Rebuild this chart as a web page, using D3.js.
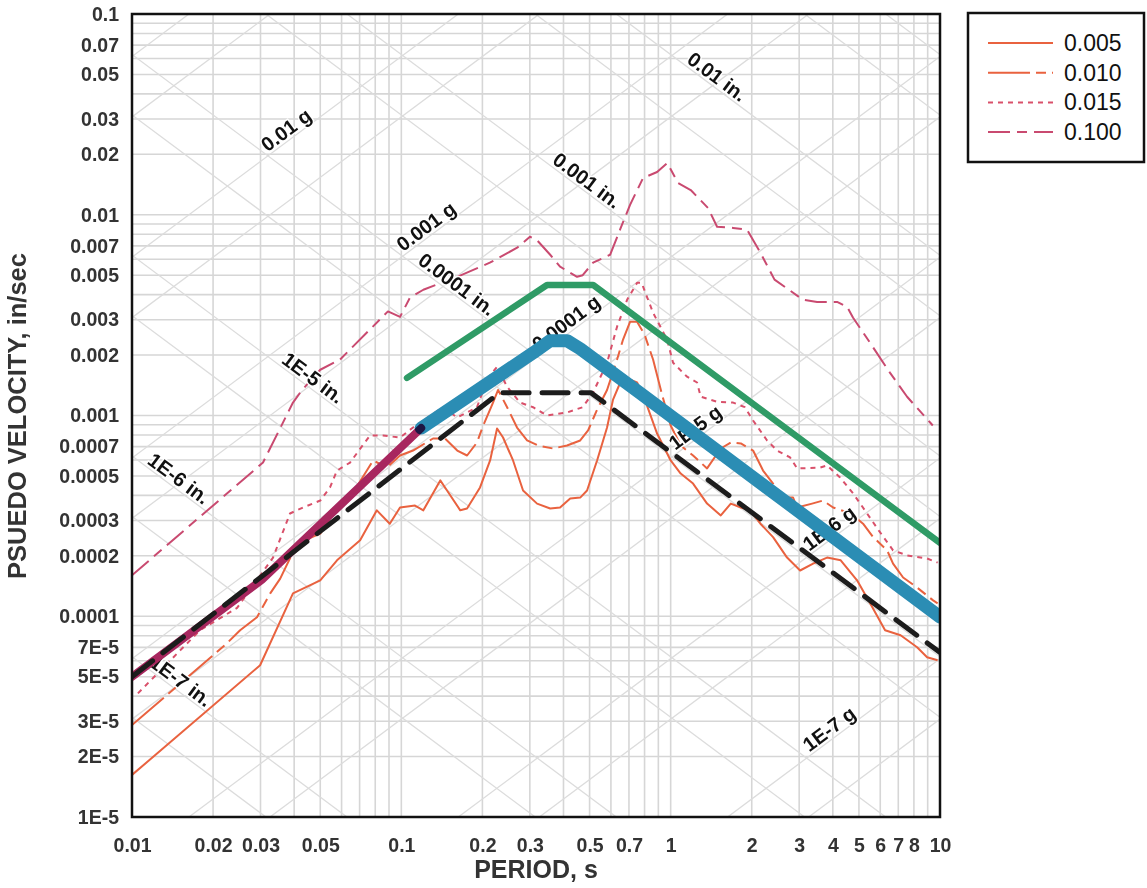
<!DOCTYPE html>
<html>
<head>
<meta charset="utf-8">
<script src="https://cdn.jsdelivr.net/npm/d3@7"></script>
<style>
  body { margin: 0; background: #fff; }
  svg { display: block; font-family: Arial, "Liberation Sans", sans-serif; }
</style>
</head>
<body>
<svg id="chart" width="1147" height="888"></svg>
<script>
// ---------- axis ticks ----------
const periodTicks = [0.01, 0.02, 0.03, 0.05, 0.1, 0.2, 0.3, 0.5, 0.7, 1, 2, 3, 4, 5, 6, 7, 8, 10];
const periodTickLabels = ["0.01", "0.02", "0.03", "0.05", "0.1", "0.2", "0.3", "0.5", "0.7", "1", "2", "3", "4", "5", "6", "7", "8", "10"];
const velocityTicks = [0.1, 0.07, 0.05, 0.03, 0.02, 0.01, 0.007, 0.005, 0.003, 0.002, 0.001, 0.0007, 0.0005, 0.0003, 0.0002, 0.0001, 7e-5, 5e-5, 3e-5, 2e-5, 1e-5];
const velocityTickLabels = ["0.1", "0.07", "0.05", "0.03", "0.02", "0.01", "0.007", "0.005", "0.003", "0.002", "0.001", "0.0007", "0.0005", "0.0003", "0.0002", "0.0001", "7E-5", "5E-5", "3E-5", "2E-5", "1E-5"];

// ---------- tripartite guide labels ----------
const accelLabelText = ["0.01 g", "0.001 g", "0.0001 g", "1E-5 g", "1E-6 g", "1E-7 g"];
const accelLabelG = [1e-2, 1e-3, 1e-4, 1e-5, 1e-6, 1e-7];
const accelLabelPeriod = [0.0393, 0.130, 0.430, 1.297, 4.08, 4.08];
const dispLabelText = ["0.01 in.", "0.001 in.", "0.0001 in.", "1E-5 in.", "1E-6 in.", "1E-7 in."];
const dispLabelIn = [1e-2, 1e-3, 1e-4, 1e-5, 1e-6, 1e-7];
const dispLabelPeriod = [1.413, 0.465, 0.153, 0.0447, 0.0142, 0.01445];

// ---------- response spectra (damping ratios) ----------
const seriesNames = ["0.005", "0.010", "0.015", "0.100"];

const period005 = [0.01, 0.0299, 0.0396, 0.05, 0.0577, 0.0703, 0.0811, 0.0906, 0.0989, 0.1124, 0.1207, 0.1395, 0.1478, 0.1655, 0.1754, 0.196, 0.2136, 0.2267, 0.2386, 0.2599, 0.2831, 0.3191, 0.357, 0.3885, 0.4236, 0.4615, 0.4893, 0.5331, 0.5805, 0.611, 0.65, 0.7066, 0.7504, 0.7897, 0.8905, 1.0, 1.0895, 1.211, 1.365, 1.535, 1.672, 1.822, 1.971, 2.154, 2.4, 2.705, 3.024, 3.38, 3.808, 4.28, 4.921, 5.502, 6.254, 7.14, 8.222, 8.956, 9.8];
const psv005 = [1.62e-5, 5.70e-5, 1.30e-4, 1.51e-4, 1.90e-4, 2.39e-4, 3.37e-4, 2.89e-4, 3.48e-4, 3.56e-4, 3.37e-4, 4.75e-4, 4.23e-4, 3.37e-4, 3.44e-4, 4.38e-4, 5.97e-4, 8.61e-4, 7.77e-4, 5.97e-4, 4.23e-4, 3.64e-4, 3.44e-4, 3.48e-4, 3.86e-4, 3.90e-4, 4.23e-4, 5.97e-4, 8.71e-4, 1.20e-3, 1.46e-3, 1.51e-3, 1.46e-3, 1.27e-3, 8.13e-4, 5.97e-4, 5.14e-4, 4.58e-4, 3.64e-4, 3.18e-4, 3.64e-4, 3.48e-4, 3.37e-4, 2.89e-4, 2.48e-4, 1.96e-4, 1.69e-4, 1.83e-4, 1.96e-4, 1.90e-4, 1.51e-4, 1.16e-4, 8.52e-5, 8.04e-5, 7.01e-5, 6.25e-5, 6.04e-5];

const period010 = [0.01, 0.02253, 0.0252, 0.02911, 0.0326, 0.0355, 0.041, 0.05, 0.05576, 0.0645, 0.07852, 0.0885, 0.0989, 0.1105, 0.1311, 0.1453, 0.1613, 0.1754, 0.191, 0.2, 0.219, 0.2287, 0.247, 0.2689, 0.293, 0.3218, 0.3658, 0.4123, 0.4615, 0.4936, 0.5331, 0.5805, 0.6324, 0.6656, 0.7066, 0.7504, 0.8, 0.8604, 0.929, 1.0, 1.0895, 1.211, 1.365, 1.535, 1.672, 1.822, 2.023, 2.203, 2.4, 2.557, 2.848, 2.948, 3.35, 3.68, 4.009, 4.67, 5.18, 5.644, 6.363, 6.695, 7.295, 8.222, 9.428, 9.8];
const psv010 = [2.87e-5, 7.34e-5, 8.52e-5, 9.89e-5, 1.30e-4, 1.54e-4, 2.30e-4, 2.58e-4, 3.25e-4, 3.90e-4, 5.97e-4, 5.51e-4, 6.32e-4, 6.69e-4, 7.68e-4, 7.68e-4, 6.69e-4, 6.32e-4, 7.34e-4, 8.71e-4, 1.16e-3, 1.34e-3, 1.10e-3, 8.71e-4, 7.51e-4, 7.09e-4, 6.85e-4, 7.09e-4, 7.51e-4, 8.42e-4, 1.07e-3, 1.34e-3, 1.90e-3, 2.39e-3, 2.93e-3, 2.93e-3, 2.53e-3, 1.90e-3, 1.27e-3, 8.92e-4, 7.09e-4, 6.32e-4, 5.45e-4, 6.85e-4, 7.34e-4, 7.26e-4, 6.69e-4, 5.32e-4, 4.58e-4, 3.90e-4, 3.90e-4, 3.48e-4, 3.64e-4, 3.77e-4, 3.48e-4, 3.25e-4, 2.89e-4, 2.48e-4, 2.13e-4, 1.83e-4, 1.56e-4, 1.39e-4, 1.20e-4, 1.16e-4];

const period015 = [0.01052, 0.01789, 0.02455, 0.03339, 0.0386, 0.04315, 0.05, 0.05435, 0.05771, 0.0645, 0.0765, 0.0855, 0.0989, 0.1105, 0.1428, 0.1613, 0.191, 0.208, 0.2267, 0.247, 0.276, 0.3083, 0.3475, 0.4123, 0.4715, 0.515, 0.5805, 0.6324, 0.689, 0.7504, 0.78, 0.8604, 0.97, 1.021, 1.1506, 1.253, 1.293, 1.487, 1.705, 1.8855, 2.023, 2.28, 2.483, 2.776, 2.948, 3.587, 3.808, 4.256, 4.757, 5.362, 5.93, 6.695, 7.548, 8.956, 9.8];
const psv015 = [4.13e-5, 8.52e-5, 1.10e-4, 1.96e-4, 3.25e-4, 3.48e-4, 3.77e-4, 4.38e-4, 5.32e-4, 5.83e-4, 7.95e-4, 7.95e-4, 7.77e-4, 8.71e-4, 1.10e-3, 9.77e-4, 1.10e-3, 1.51e-3, 1.75e-3, 1.39e-3, 1.16e-3, 1.10e-3, 1.0e-3, 1.035e-3, 1.10e-3, 1.30e-3, 1.83e-3, 2.77e-3, 3.77e-3, 4.58e-3, 4.58e-3, 3.25e-3, 2.39e-3, 1.83e-3, 1.56e-3, 1.46e-3, 1.24e-3, 1.17e-3, 1.16e-3, 1.10e-3, 9.44e-4, 7.51e-4, 6.69e-4, 6.18e-4, 5.45e-4, 5.5e-4, 5.64e-4, 4.91e-4, 4.09e-4, 3.25e-4, 2.67e-4, 2.13e-4, 2.01e-4, 1.94e-4, 1.85e-4];

const period100 = [0.01, 0.03065, 0.0396, 0.0428, 0.05, 0.0592, 0.0892, 0.0989, 0.1076, 0.1207, 0.1613, 0.2131, 0.2692, 0.3003, 0.318, 0.357, 0.3885, 0.4492, 0.4715, 0.515, 0.5957, 0.6486, 0.7066, 0.7897, 0.8905, 0.9717, 1.065, 1.187, 1.377, 1.487, 1.705, 1.922, 2.154, 2.43, 3.102, 3.497, 4.148, 4.519, 4.757, 5.502, 6.526, 7.548, 9.19, 9.4];
const psv100 = [1.6e-4, 5.83e-4, 1.16e-3, 1.34e-3, 1.69e-3, 1.9e-3, 3.3e-3, 3.1e-3, 3.86e-3, 4.23e-3, 4.91e-3, 5.77e-3, 6.85e-3, 7.77e-3, 7.5e-3, 6.32e-3, 5.51e-3, 4.91e-3, 5.0e-3, 5.77e-3, 6.32e-3, 8.42e-3, 1.12e-2, 1.524e-2, 1.633e-2, 1.81e-2, 1.44e-2, 1.328e-2, 1.08e-2, 8.71e-3, 8.6e-3, 8.42e-3, 6.47e-3, 4.75e-3, 3.77e-3, 3.68e-3, 3.68e-3, 3.48e-3, 3.07e-3, 2.30e-3, 1.63e-3, 1.24e-3, 9.23e-4, 8.92e-4];

// ---------- hand-drawn envelopes ----------
const periodGreen = [0.105, 0.3475, 0.515, 10];
const psvGreen = [1.54e-3, 4.47e-3, 4.47e-3, 2.32e-4];
const periodBlue = [0.1185, 0.3083, 0.357, 0.4123, 0.4615, 0.7694, 10];
const psvBlue = [8.66e-4, 2.05e-3, 2.36e-3, 2.36e-3, 2.15e-3, 1.295e-3, 9.92e-5];
const periodMagenta = [0.01, 0.0304, 0.1185];
const psvMagenta = [5.0e-5, 1.52e-4, 8.66e-4];
const periodBlack = [0.01, 0.232, 0.505, 10];
const psvBlack = [5.0e-5, 1.3e-3, 1.3e-3, 6.6e-5];

// ---------- layout ----------
const svg = d3.select("#chart");
const plot = { left: 132, top: 14, right: 940, bottom: 817 };
const x = d3.scaleLog().domain([0.01, 10]).range([plot.left, plot.right]);
const y = d3.scaleLog().domain([1e-5, 0.1]).range([plot.bottom, plot.top]);
const G = 386.09; // in/s^2

svg.append("defs").append("clipPath").attr("id", "plotClip")
  .append("rect").attr("x", plot.left).attr("y", plot.top)
  .attr("width", plot.right - plot.left).attr("height", plot.bottom - plot.top);

const gridG = svg.append("g").attr("clip-path", "url(#plotClip)");

// rectangular log grid
gridG.selectAll("line.vx").data(x.ticks()).join("line")
  .attr("x1", d => x(d)).attr("x2", d => x(d))
  .attr("y1", plot.top).attr("y2", plot.bottom)
  .attr("stroke", "#d6d6d6").attr("stroke-width", 1.6);
gridG.selectAll("line.hy").data(y.ticks()).join("line")
  .attr("y1", d => y(d)).attr("y2", d => y(d))
  .attr("x1", plot.left).attr("x2", plot.right)
  .attr("stroke", "#d6d6d6").attr("stroke-width", 1.6);

// diagonal acceleration / displacement guides (1 and 5 per decade)
const guideLevels = [];
for (let k = -11; k <= 1; k++) { guideLevels.push(Math.pow(10, k)); guideLevels.push(5 * Math.pow(10, k)); }
const accelSV = (a, T) => a * G * T / (2 * Math.PI);
const dispSV = (dd, T) => 2 * Math.PI * dd / T;
guideLevels.forEach(a => {
  gridG.append("line")
    .attr("x1", x(0.01)).attr("y1", y(accelSV(a, 0.01)))
    .attr("x2", x(10)).attr("y2", y(accelSV(a, 10)))
    .attr("stroke", "#dcdcdc").attr("stroke-width", 1.3);
});
guideLevels.forEach(dd => {
  gridG.append("line")
    .attr("x1", x(0.01)).attr("y1", y(dispSV(dd, 0.01)))
    .attr("x2", x(10)).attr("y2", y(dispSV(dd, 10)))
    .attr("stroke", "#dcdcdc").attr("stroke-width", 1.3);
});

// ---------- axes ----------
const xAxis = svg.append("g").attr("transform", `translate(0,${plot.bottom})`)
  .call(d3.axisBottom(x).tickValues(periodTicks).tickFormat((d, i) => periodTickLabels[i]).tickSize(0).tickPadding(21));
const yAxis = svg.append("g").attr("transform", `translate(${plot.left},0)`)
  .call(d3.axisLeft(y).tickValues(velocityTicks).tickFormat((d, i) => velocityTickLabels[i]).tickSize(0).tickPadding(13));
[xAxis, yAxis].forEach(a => {
  a.select(".domain").remove();
  a.selectAll("text").attr("font-family", "Arial, 'Liberation Sans', sans-serif")
    .attr("font-size", 19.5).attr("font-weight", "bold").attr("fill", "#333");
});

svg.append("text").attr("x", (plot.left + plot.right) / 2).attr("y", 878)
  .attr("text-anchor", "middle").attr("font-size", 25).attr("font-weight", "bold")
  .attr("fill", "#333").text("PERIOD, s");
svg.append("text").attr("transform", "translate(26,416) rotate(-90)")
  .attr("text-anchor", "middle").attr("font-size", 25.5).attr("font-weight", "bold")
  .attr("fill", "#333").text("PSUEDO VELOCITY, in/sec");

// ---------- spectra ----------
const line = d3.line().x(d => x(d[0])).y(d => y(d[1]));
const zip = (a, b) => a.map((v, i) => [v, b[i]]);

const seriesData = [zip(period005, psv005), zip(period010, psv010), zip(period015, psv015), zip(period100, psv100)];
const seriesColor = ["#e9623f", "#e9623f", "#d9506a", "#c94a70"];
const seriesDash = [null, "42,6,10,6", "5,5", "22,7,10,7"];

const dataG = svg.append("g").attr("clip-path", "url(#plotClip)");
seriesData.forEach((pts, i) => {
  dataG.append("path").attr("d", line(pts)).attr("fill", "none")
    .attr("stroke", seriesColor[i]).attr("stroke-width", 2)
    .attr("stroke-dasharray", seriesDash[i]).attr("stroke-linejoin", "round");
});

// ---------- guide labels ----------
const decX = x(10) - x(1), decY = y(0.01) - y(0.1);
const ang = Math.atan2(decY, decX) * 180 / Math.PI;
const labelG = svg.append("g").attr("font-size", 20).attr("font-weight", "bold").attr("fill", "#111");
accelLabelText.forEach((t, i) => {
  const T = accelLabelPeriod[i];
  labelG.append("text")
    .attr("transform", `translate(${x(T)},${y(accelSV(accelLabelG[i], T))}) rotate(${-ang})`)
    .attr("y", -3).attr("text-anchor", "middle")
    .attr("stroke", "#fff").attr("stroke-width", 3).attr("paint-order", "stroke")
    .text(t);
});
dispLabelText.forEach((t, i) => {
  const T = dispLabelPeriod[i];
  labelG.append("text")
    .attr("transform", `translate(${x(T)},${y(dispSV(dispLabelIn[i], T))}) rotate(${ang})`)
    .attr("y", -3).attr("text-anchor", "middle")
    .attr("stroke", "#fff").attr("stroke-width", 3).attr("paint-order", "stroke")
    .text(t);
});

// ---------- marker envelopes ----------
const markG = svg.append("g").attr("clip-path", "url(#plotClip)");
markG.append("path").attr("d", line(zip(periodGreen, psvGreen))).attr("fill", "none")
  .attr("stroke", "#2f9b66").attr("stroke-width", 6.5).attr("stroke-linecap", "round")
  .attr("stroke-linejoin", "round").style("mix-blend-mode", "multiply");
markG.append("path").attr("d", line(zip(periodBlue, psvBlue))).attr("fill", "none")
  .attr("stroke", "#2b8db4").attr("stroke-width", 13).attr("stroke-linecap", "round")
  .attr("stroke-linejoin", "round").style("mix-blend-mode", "multiply");
markG.append("path").attr("d", line(zip(periodMagenta, psvMagenta))).attr("fill", "none")
  .attr("stroke", "#a8275f").attr("stroke-width", 8).attr("stroke-linecap", "round")
  .style("mix-blend-mode", "multiply");
markG.append("path").attr("d", line(zip(periodBlack, psvBlack))).attr("fill", "none")
  .attr("stroke", "#1c1c1c").attr("stroke-width", 5).attr("stroke-linecap", "round")
  .attr("stroke-dasharray", "26,13").attr("stroke-linejoin", "round");

// ---------- frame ----------
svg.append("rect").attr("x", plot.left).attr("y", plot.top)
  .attr("width", plot.right - plot.left).attr("height", plot.bottom - plot.top)
  .attr("fill", "none").attr("stroke", "#111").attr("stroke-width", 2.5);

// ---------- legend ----------
const legend = svg.append("g");
legend.append("rect").attr("x", 968).attr("y", 13).attr("width", 176).attr("height", 149)
  .attr("fill", "#fff").attr("stroke", "#111").attr("stroke-width", 2.5);
seriesNames.forEach((name, i) => {
  const ly = 43 + i * 29.7;
  legend.append("line").attr("x1", 988).attr("x2", 1053).attr("y1", ly).attr("y2", ly)
    .attr("stroke", seriesColor[i]).attr("stroke-width", 2).attr("stroke-dasharray", seriesDash[i]);
  legend.append("text").attr("x", 1064).attr("y", ly).attr("dy", "0.35em")
    .attr("font-size", 23).attr("fill", "#111").text(name);
});
</script>
</body>
</html>
